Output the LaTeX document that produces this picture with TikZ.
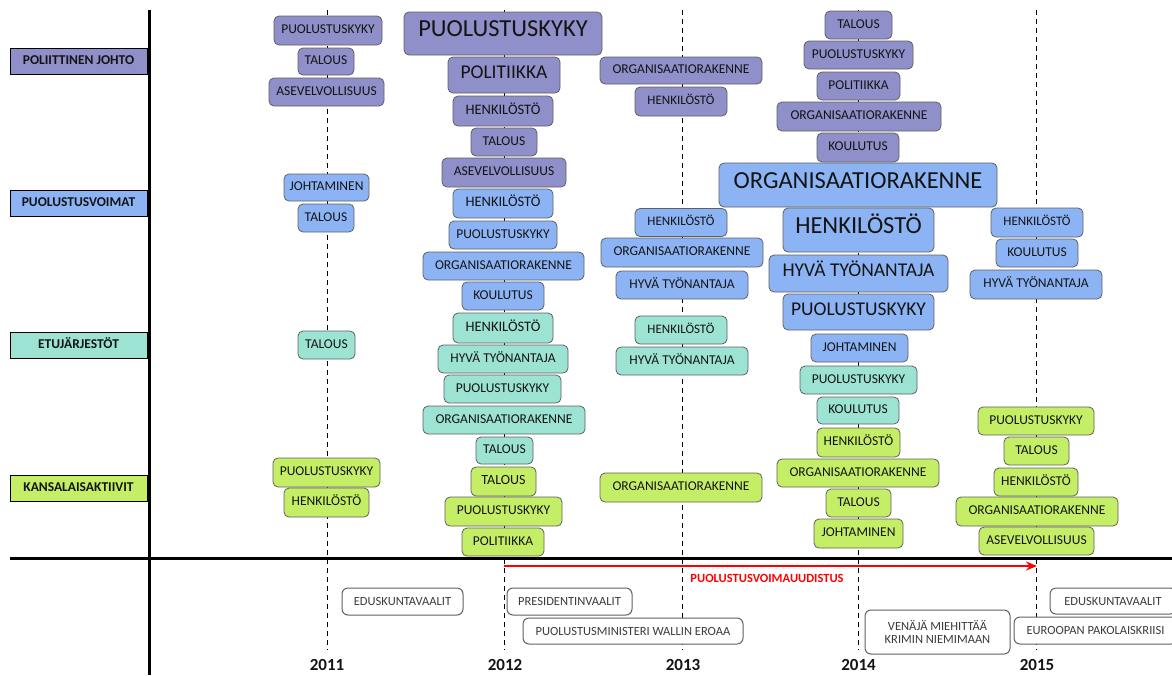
\documentclass[tikz,border=0pt]{standalone}
\usepackage{fontspec}
\setmainfont{Carlito}
\usetikzlibrary{arrows.meta}
\definecolor{cpol}{HTML}{8F8FC9}
\definecolor{cpv}{HTML}{8CB4F5}
\definecolor{cetu}{HTML}{9DE3D3}
\definecolor{ckan}{HTML}{C5EE67}
\definecolor{cbord}{HTML}{606060}
\definecolor{ctxt}{HTML}{141414}
\definecolor{cev}{HTML}{3C3C3C}
\newcommand{\fs}[1]{\fontsize{#1}{#1}\selectfont}
% \B{name}{colour}{x}{y}{w}{h}{size}{text}
\newcommand{\B}[8]{\node[topicbox,fill=#2,minimum width=#5pt,minimum height=#6pt,font=\fs{#7}] (#1) at (#3,#4) {#8};}
\tikzset{
  topicbox/.style={draw=cbord,line width=0.8pt,rounded corners=5pt,inner sep=0pt,text=ctxt,
    text height=0.64em,text depth=0pt,align=center},
  catbox/.style={draw=black,line width=1pt,inner sep=0pt,minimum width=137pt,minimum height=26pt,
    font=\fs{13.5}\bfseries,text=ctxt,text height=0.64em,text depth=0pt},
  eventbox/.style={draw=cbord,line width=1pt,rounded corners=6pt,fill=white,inner sep=0pt,
    font=\fs{12.5},text=cev,align=center},
  yearline/.style={line width=0.9pt,dash pattern=on 5pt off 4pt},
  axisline/.style={line width=3pt,black},
  yearlab/.style={font=\fs{17}\bfseries,text=ctxt,inner sep=0pt}
}
\begin{document}
\begin{tikzpicture}[x=1pt,y=-1pt]
\useasboundingbox (0,0) rectangle (1172,675);
\begin{scope}
\clip (0,0) rectangle (1172,675);
% year dashed lines
\foreach \n/\xx in {a/327,b/504,c/682,d/858,e/1036}{
  \coordinate (yt\n) at (\xx,10);
  \coordinate (yb\n) at (\xx,650);
  \draw[yearline] (yt\n) -- (yb\n);
}
% category labels
\node[catbox,fill=cpol] (cpolit) at (78.5,61) {POLIITTINEN JOHTO};
\node[catbox,fill=cpv] (cpuol) at (78.5,203.5) {PUOLUSTUSVOIMAT};
\node[catbox,fill=cetu] (cetuj) at (78.5,345.5) {ETUJÄRJESTÖT};
\node[catbox,fill=ckan] (ckans) at (78.5,488) {KANSALAISAKTIIVIT};
% 2011
\B{p11a}{cpol}{328}{30.5}{108}{29}{13.5}{PUOLUSTUSKYKY}
\B{p11b}{cpol}{326}{61.5}{56}{27}{13.5}{TALOUS}
\B{p11c}{cpol}{326.5}{92}{115}{28}{13.5}{ASEVELVOLLISUUS}
\B{b11a}{cpv}{326.5}{187.5}{85}{27}{13.5}{JOHTAMINEN}
\B{b11b}{cpv}{326}{218}{56}{28}{13.5}{TALOUS}
\B{t11a}{cetu}{326.5}{345}{57}{28}{13.5}{TALOUS}
\B{g11a}{ckan}{326.5}{472.5}{107}{29}{13.5}{PUOLUSTUSKYKY}
\B{g11b}{ckan}{326.5}{502.5}{85}{29}{13.5}{HENKILÖSTÖ}
% 2012
\B{p12a}{cpol}{503}{33.5}{198}{43}{24.5}{PUOLUSTUSKYKY}
\B{p12b}{cpol}{504}{75}{112}{36}{19.5}{POLITIIKKA}
\B{p12c}{cpol}{503}{111}{100}{30}{14.5}{HENKILÖSTÖ}
\B{p12d}{cpol}{504}{142}{66}{28}{13.5}{TALOUS}
\B{p12e}{cpol}{504}{172.5}{124}{29}{13.5}{ASEVELVOLLISUUS}
\B{b12a}{cpv}{503}{203.5}{100}{29}{14.5}{HENKILÖSTÖ}
\B{b12b}{cpv}{503}{235}{108}{28}{13.5}{PUOLUSTUSKYKY}
\B{b12c}{cpv}{503.5}{266}{161}{28}{13.5}{ORGANISAATIORAKENNE}
\B{b12d}{cpv}{503}{296}{82}{28}{13.5}{KOULUTUS}
\B{t12a}{cetu}{503}{328}{100}{30}{14.5}{HENKILÖSTÖ}
\B{t12b}{cetu}{503}{359}{130}{28}{13.5}{HYVÄ TYÖNANTAJA}
\B{t12c}{cetu}{502.5}{389}{117}{28}{13.5}{PUOLUSTUSKYKY}
\B{t12d}{cetu}{504}{420}{162}{28}{13.5}{ORGANISAATIORAKENNE}
\B{t12e}{cetu}{504.5}{450.5}{57}{27}{13.5}{TALOUS}
\B{g12a}{ckan}{503.5}{481.5}{65}{29}{14}{TALOUS}
\B{g12b}{ckan}{503.5}{511.5}{117}{29}{13.5}{PUOLUSTUSKYKY}
\B{g12c}{ckan}{503}{542}{82}{28}{13.5}{POLITIIKKA}
% 2013
\B{p13a}{cpol}{681}{70.5}{162}{27}{13.5}{ORGANISAATIORAKENNE}
\B{p13b}{cpol}{681}{101.5}{92}{29}{13}{HENKILÖSTÖ}
\B{b13a}{cpv}{681}{222.5}{92}{28}{13}{HENKILÖSTÖ}
\B{b13b}{cpv}{682}{252.5}{162}{29}{13.5}{ORGANISAATIORAKENNE}
\B{b13c}{cpv}{682}{285}{132}{28}{13.5}{HYVÄ TYÖNANTAJA}
\B{t13a}{cetu}{681}{330}{92}{28}{13}{HENKILÖSTÖ}
\B{t13b}{cetu}{682}{361}{132}{28}{13.5}{HYVÄ TYÖNANTAJA}
\B{g13a}{ckan}{681}{487.5}{162}{29}{13.5}{ORGANISAATIORAKENNE}
% 2014
\B{p14a}{cpol}{858.5}{25}{67}{28}{13.5}{TALOUS}
\B{p14b}{cpol}{858.5}{55}{109}{28}{13.5}{PUOLUSTUSKYKY}
\B{p14c}{cpol}{858.5}{86}{83}{28}{13.5}{POLITIIKKA}
\B{p14d}{cpol}{859}{116.5}{164}{29}{13.5}{ORGANISAATIORAKENNE}
\B{p14e}{cpol}{858}{147.5}{82}{29}{13.5}{KOULUTUS}
\B{b14a}{cpv}{858}{185}{278}{44}{24.5}{ORGANISAATIORAKENNE}
\B{b14b}{cpv}{858.5}{230}{151}{44}{24.5}{HENKILÖSTÖ}
\B{b14c}{cpv}{858.5}{273.5}{179}{37}{19.5}{HYVÄ TYÖNANTAJA}
\B{b14d}{cpv}{858.5}{312}{151}{36}{19.5}{PUOLUSTUSKYKY}
\B{b14e}{cpv}{859.5}{348}{97}{28}{13.5}{JOHTAMINEN}
\B{t14a}{cetu}{858.5}{380}{117}{28}{13.5}{PUOLUSTUSKYKY}
\B{t14b}{cetu}{858}{410.5}{82}{27}{13.5}{KOULUTUS}
\B{g14a}{ckan}{858.5}{442.5}{83}{29}{13.5}{HENKILÖSTÖ}
\B{g14b}{ckan}{858}{473}{162}{28}{13.5}{ORGANISAATIORAKENNE}
\B{g14c}{ckan}{858.5}{503}{65}{28}{13.5}{TALOUS}
\B{g14d}{ckan}{858.5}{533.5}{89}{29}{13.5}{JOHTAMINEN}
% 2015
\B{b15a}{cpv}{1037}{222.5}{92}{29}{13}{HENKILÖSTÖ}
\B{b15b}{cpv}{1037}{253}{82}{28}{13.5}{KOULUTUS}
\B{b15c}{cpv}{1036}{284.5}{132}{29}{13.5}{HYVÄ TYÖNANTAJA}
\B{g15a}{ckan}{1036}{421}{116}{28}{13.5}{PUOLUSTUSKYKY}
\B{g15b}{ckan}{1036.5}{451}{65}{28}{13.5}{TALOUS}
\B{g15c}{ckan}{1036}{482}{84}{28}{13.5}{HENKILÖSTÖ}
\B{g15d}{ckan}{1037}{511.5}{162}{29}{13.5}{ORGANISAATIORAKENNE}
\B{g15e}{ckan}{1036.5}{541}{115}{28}{13.5}{ASEVELVOLLISUUS}
% axes
\coordinate (vaxT) at (149,10);
\coordinate (vaxB) at (149,675);
\coordinate (haxL) at (10,558);
\coordinate (haxR) at (1172,558);
\draw[axisline] (vaxT) -- (vaxB);
\draw[axisline] (haxL) -- (haxR);
% reform arrow
\coordinate (rs) at (504,566);
\coordinate (re) at (1037,566);
\draw[red,line width=2.5pt,-{Stealth[length=11pt,width=9pt]}] (rs) -- (re);
\node[font=\fs{12.5}\bfseries,text=red,inner sep=0pt] (reform) at (767,578) {PUOLUSTUSVOIMAUUDISTUS};
% events
\node[eventbox,minimum width=121pt,minimum height=27pt] (e1) at (402.5,601.5) {EDUSKUNTAVAALIT};
\node[eventbox,minimum width=125pt,minimum height=27pt] (e2) at (569.5,601.5) {PRESIDENTINVAALIT};
\node[eventbox,minimum width=220pt,minimum height=26pt] (e3) at (633,631) {PUOLUSTUSMINISTERI WALLIN EROAA};
\node[eventbox,minimum width=145pt,minimum height=44pt] (e4) at (937.5,632) {VENÄJÄ MIEHITTÄÄ\\[1pt]KRIMIN NIEMIMAAN};
\node[eventbox,minimum width=126pt,minimum height=26pt] (e5) at (1113,601) {EDUSKUNTAVAALIT};
\node[eventbox,minimum width=163pt,minimum height=27pt] (e6) at (1095.5,630.5) {EUROOPAN PAKOLAISKRIISI};
% years
\node[yearlab] (y11) at (327,665) {2011};
\node[yearlab] (y12) at (505,665) {2012};
\node[yearlab] (y13) at (683,665) {2013};
\node[yearlab] (y14) at (858.5,665) {2014};
\node[yearlab] (y15) at (1037,665) {2015};
\end{scope}
\end{tikzpicture}
\end{document}
